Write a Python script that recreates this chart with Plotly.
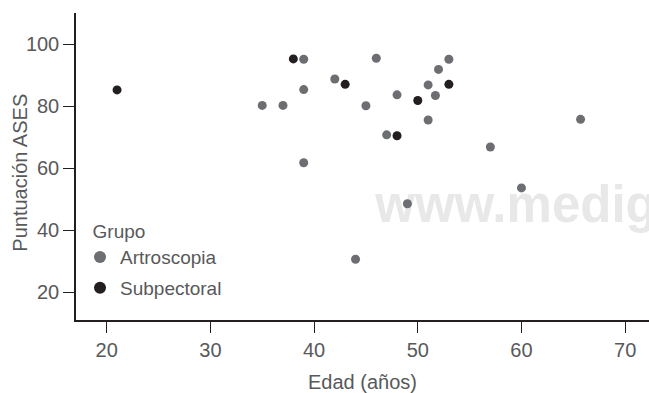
import plotly.graph_objects as go

# Artroscopia group
artro_edad = [35, 37, 39, 39, 39, 42, 44, 45, 46, 47, 48, 49, 51, 51, 51.7, 52, 53, 57, 60, 65.7]
artro_ases = [80.2, 80.2, 95.1, 85.3, 61.7, 88.7, 30.6, 80.1, 95.4, 70.7, 83.6, 48.5, 86.8, 75.5, 83.4, 91.8, 95.1, 66.8, 53.6, 75.7]
# Subpectoral group
subp_edad = [21, 38, 43, 48, 50, 53]
subp_ases = [85.2, 95.2, 87.0, 70.4, 81.8, 87.0]

x_ticks = [20, 30, 40, 50, 60, 70]
y_ticks = [20, 40, 60, 80, 100]

FONT = "Liberation Sans, Arial, sans-serif"
TXT = "#58595b"
AX = "#231f20"

fig = go.Figure()
# watermark drawn beneath the points
fig.add_trace(go.Scatter(
    x=[45.9], y=[46.8], mode="text", text=["www.medigraphic.org.mx"],
    textposition="middle right", showlegend=False, hoverinfo="skip",
    textfont=dict(family="Liberation Sans, Arial, sans-serif", size=51, color="#e8e8e9", weight="bold"),
))
fig.add_trace(go.Scatter(
    x=artro_edad, y=artro_ases, mode="markers", name="Artroscopia",
    marker=dict(color="#6d6e71", size=9), legendgroup="a",
))
fig.add_trace(go.Scatter(
    x=subp_edad, y=subp_ases, mode="markers", name="Subpectoral",
    marker=dict(color="#231f20", size=9), legendgroup="b",
))

fig.update_layout(
    width=649, height=393,
    margin=dict(l=76, r=0, t=13, b=73),
    plot_bgcolor="white", paper_bgcolor="white",
    font=dict(family=FONT, size=19, color=TXT),
    showlegend=True,
    legend=dict(
        title=dict(text="\u00a0\u00a0Grupo", font=dict(size=19, color=TXT)),
        x=0.007, xanchor="left", y=0.347, yanchor="top",
        bgcolor="rgba(0,0,0,0)", font=dict(size=19, color=TXT),
        tracegroupgap=3, itemsizing="constant",
    ),
    annotations=[dict(
        text="Puntuación ASES", textangle=-90, xref="paper", yref="paper",
        x=-0.0977, y=0.48, xanchor="center", yanchor="middle", showarrow=False,
        font=dict(size=20, color=TXT),
    )],
)
fig.update_xaxes(
    range=[17.04, 72.3], tickvals=x_ticks, ticktext=[str(v) for v in x_ticks],
    showgrid=False, zeroline=False, showline=True, linecolor=AX, linewidth=1.5,
    ticks="outside", ticklen=11, tickwidth=1.2, tickcolor=AX,
    tickfont=dict(size=20, color=TXT), automargin=False,
    title=dict(text="Edad (años)", font=dict(size=20, color=TXT), standoff=15),
)
fig.update_yaxes(
    range=[11.0, 110.0], tickvals=y_ticks, ticktext=[str(v) for v in y_ticks],
    showgrid=False, zeroline=False, showline=True, linecolor=AX, linewidth=1.5,
    ticks="outside", ticklen=11, tickwidth=1.2, tickcolor=AX,
    tickfont=dict(size=20, color=TXT), automargin=False,
)

fig.write_html(
    "out.html",
    config={"displayModeBar": False},
    post_script="document.body.style.margin='0';document.body.style.overflow='hidden';",
)
